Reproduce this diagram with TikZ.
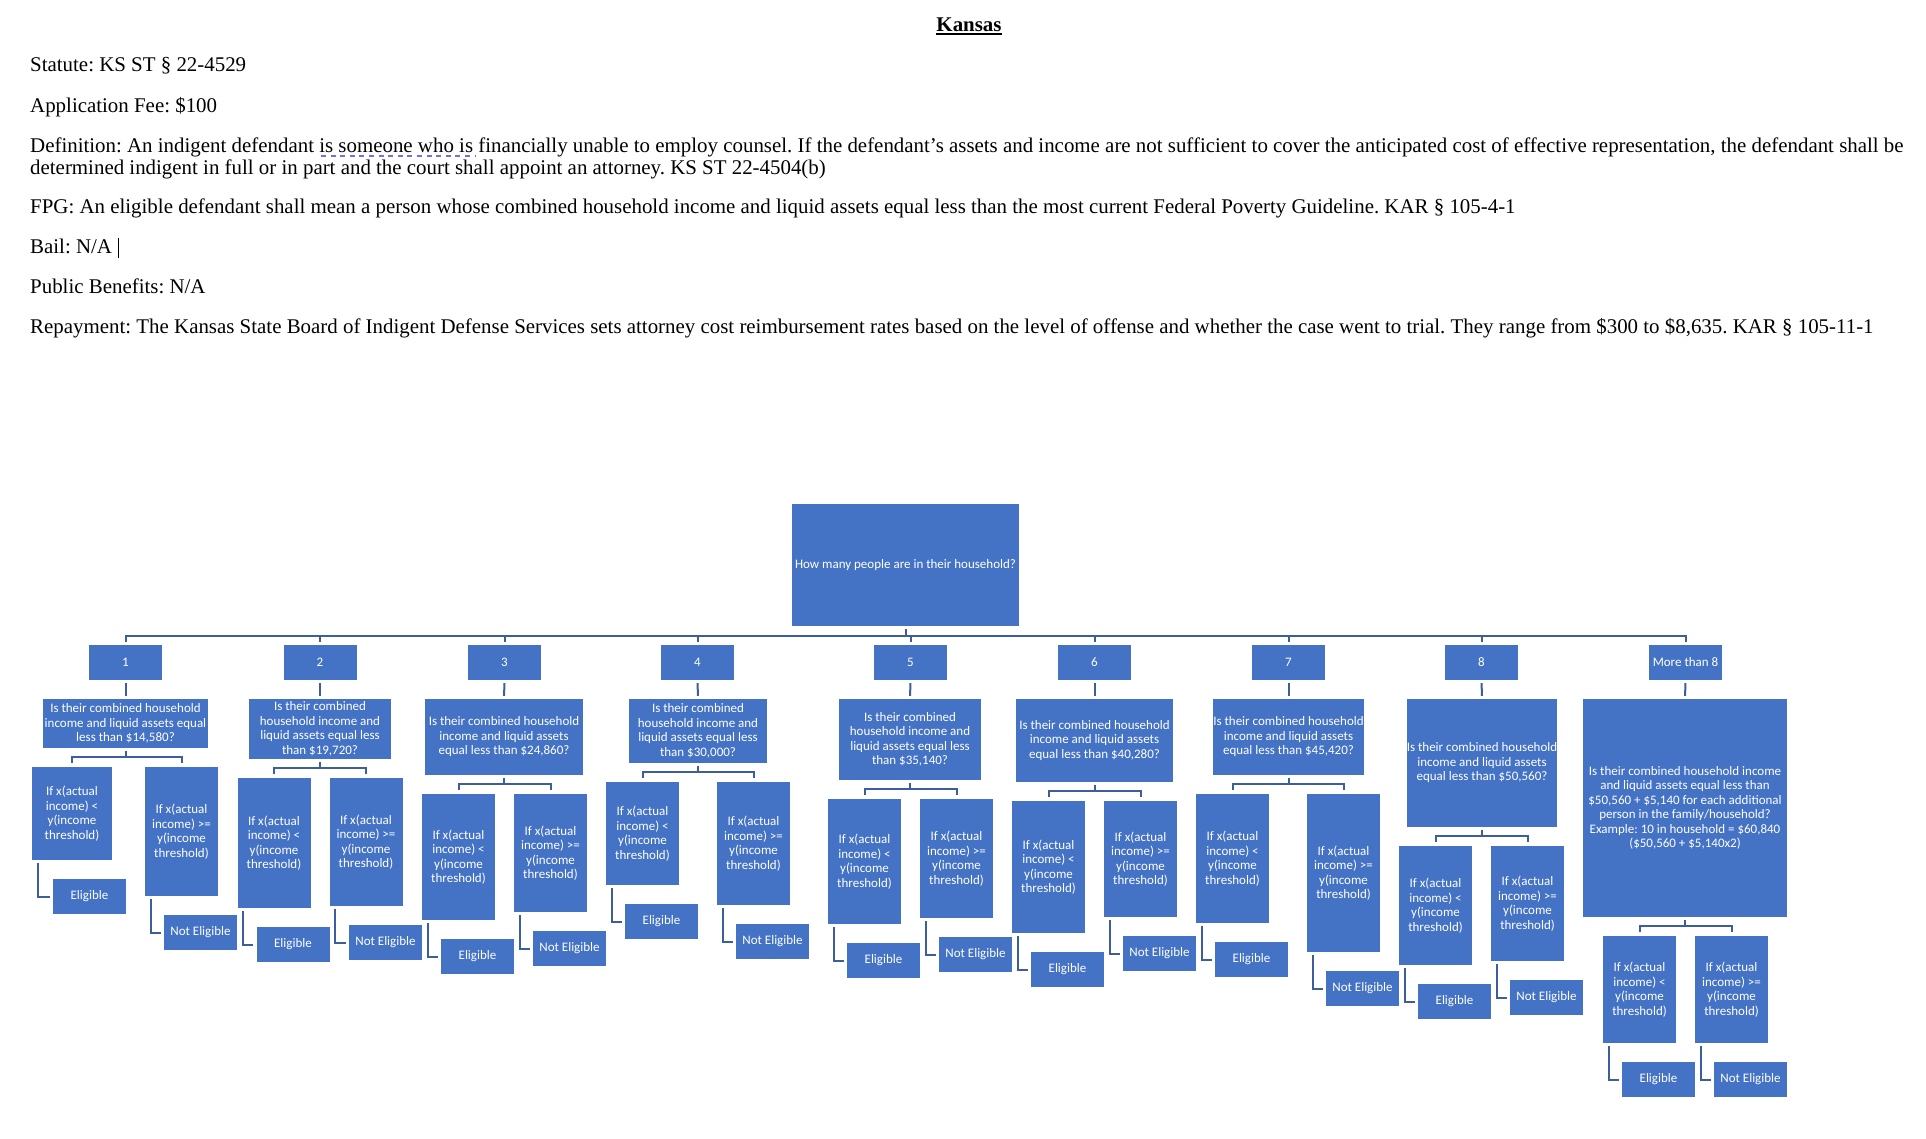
\documentclass[tikz,border=0pt]{standalone}
\usepackage{fontspec}
\setmainfont{Liberation Serif}
\newfontfamily\carlito{Carlito}
\usetikzlibrary{calc}
\definecolor{boxblue}{HTML}{4472C4}
\definecolor{lineblue}{HTML}{3C5E9C}
\definecolor{spellblue}{HTML}{7070E0}
\newcommand{\boxfont}{\carlito\fontsize{13}{14.5}\selectfont}
\newcommand{\pagefont}{\fontsize{20.9}{21}\selectfont}
\frenchspacing
\begin{document}
\begin{tikzpicture}[x=1pt,y=-1pt,
  box/.style={fill=boxblue,text=white,inner sep=0pt,align=center,font=\boxfont},
  numbox/.style={box,minimum width=73,minimum height=35},
  ifbox/.style={box,minimum width=73},
  leaf/.style={box,minimum width=73,minimum height=35},
  link/.style={draw=lineblue,line width=2pt},
  textline/.style={anchor=base west,inner sep=0pt,font=\pagefont}]
\useasboundingbox (0,0) rectangle (1926,1138);

\node[textline,anchor=base,font=\pagefont\bfseries] (title) at (969,31) {Kansas};
\draw[line width=1.4pt] ([yshift=-3pt]title.base west) -- ([yshift=-3pt]title.base east);
\node[textline] (statute) at (30,71) {Statute: KS ST § 22-4529};
\node[textline] (fee) at (30,112) {Application Fee: \$100};
\node[textline] (defn) at (30,152) {Definition: An indigent defendant is someone who is financially unable to employ counsel. If the defendant’s assets and income are not sufficient to cover the anticipated cost of effective representation, the defendant shall be};
\node[textline] (defn2) at (30,174) {determined indigent in full or in part and the court shall appoint an attorney. KS ST 22-4504(b)};
\draw[spellblue,line width=2.5pt,dash pattern=on 5pt off 4.6pt] (321,156) -- (475,156);
\node[textline] (fpg) at (30,213) {FPG: An eligible defendant shall mean a person whose combined household income and liquid assets equal less than the most current Federal Poverty Guideline. KAR § 105-4-1};
\node[textline] (bail) at (30,253) {Bail: N/A};
\draw[line width=1.2pt] ($(bail.base east)+(6,5)$) -- ++(0,-20);
\node[textline] (benefits) at (30,293) {Public Benefits: N/A};
\node[textline] (repay) at (30,333) {Repayment: The Kansas State Board of Indigent Defense Services sets attorney cost reimbursement rates based on the level of offense and whether the case went to trial. They range from \$300 to \$8,635. KAR § 105-11-1};

\node[box,minimum width=227,minimum height=122] (top) at (905.5,565) {How many people are in their household?};

\node[numbox] (n1) at (125.5,662.5) {1};
\node[numbox] (n2) at (320,662.5) {2};
\node[numbox] (n3) at (504.5,662.5) {3};
\node[numbox] (n4) at (697.5,662.5) {4};
\node[numbox] (n5) at (910.5,662.5) {5};
\node[numbox] (n6) at (1094.5,662.5) {6};
\node[numbox] (n7) at (1288.5,662.5) {7};
\node[numbox] (n8) at (1481.5,662.5) {8};
\node[numbox] (n9) at (1685.5,662.5) {More than 8};

\node[box,minimum width=165,minimum height=49] (q1) at (125.5,723.5) {Is their combined household\\income and liquid assets equal\\less than \$14,580?};
\node[box,minimum width=142,minimum height=60] (q2) at (320,729) {Is their combined\\household income and\\liquid assets equal less\\than \$19,720?};
\node[box,minimum width=158,minimum height=76] (q3) at (504,737) {Is their combined household\\income and liquid assets\\equal less than \$24,860?};
\node[box,minimum width=138,minimum height=64] (q4) at (698,731) {Is their combined\\household income and\\liquid assets equal less\\than \$30,000?};
\node[box,minimum width=142,minimum height=81] (q5) at (910,739.5) {Is their combined\\household income and\\liquid assets equal less\\than \$35,140?};
\node[box,minimum width=157,minimum height=83] (q6) at (1094.5,740.5) {Is their combined household\\income and liquid assets\\equal less than \$40,280?};
\node[box,minimum width=151,minimum height=76] (q7) at (1288.5,737) {Is their combined household\\income and liquid assets\\equal less than \$45,420?};
\node[box,minimum width=150,minimum height=128] (q8) at (1482,763) {Is their combined household\\income and liquid assets\\equal less than \$50,560?};
\node[box,minimum width=204,minimum height=218] (q9) at (1685,808) {Is their combined household income\\and liquid assets equal less than\\\$50,560 + \$5,140 for each additional\\person in the family/household?\\Example: 10 in household = \$60,840\\(\$50,560 + \$5,140x2)};

\node[ifbox,minimum width=80,minimum height=93] (l1) at (72,813.5) {If x(actual\\income) <\\y(income\\threshold)};
\node[ifbox,minimum height=129] (r1) at (181.5,831.5) {If x(actual\\income) >=\\y(income\\threshold)};
\node[ifbox,minimum height=130] (l2) at (274,843) {If x(actual\\income) <\\y(income\\threshold)};
\node[ifbox,minimum height=128] (r2) at (366,842) {If x(actual\\income) >=\\y(income\\threshold)};
\node[ifbox,minimum height=126] (l3) at (458.5,857) {If x(actual\\income) <\\y(income\\threshold)};
\node[ifbox,minimum height=118] (r3) at (550.5,853) {If x(actual\\income) >=\\y(income\\threshold)};
\node[ifbox,minimum height=103] (l4) at (642.5,833.5) {If x(actual\\income) <\\y(income\\threshold)};
\node[ifbox,minimum height=123] (r4) at (753.5,843.5) {If x(actual\\income) >=\\y(income\\threshold)};
\node[ifbox,minimum height=125] (l5) at (864.5,861.5) {If x(actual\\income) <\\y(income\\threshold)};
\node[ifbox,minimum height=119] (r5) at (956.5,858.5) {If x(actual\\income) >=\\y(income\\threshold)};
\node[ifbox,minimum height=132] (l6) at (1048.5,867) {If x(actual\\income) <\\y(income\\threshold)};
\node[ifbox,minimum height=116] (r6) at (1140.5,859) {If x(actual\\income) >=\\y(income\\threshold)};
\node[ifbox,minimum height=129] (l7) at (1232.5,858.5) {If x(actual\\income) <\\y(income\\threshold)};
\node[ifbox,minimum height=158] (r7) at (1343.5,873) {If x(actual\\income) >=\\y(income\\threshold)};
\node[ifbox,minimum height=119] (l8) at (1435.5,905.5) {If x(actual\\income) <\\y(income\\threshold)};
\node[ifbox,minimum height=115] (r8) at (1527.5,903.5) {If x(actual\\income) >=\\y(income\\threshold)};
\node[ifbox,minimum height=107] (l9) at (1639.5,989.5) {If x(actual\\income) <\\y(income\\threshold)};
\node[ifbox,minimum height=107] (r9) at (1731.5,989.5) {If x(actual\\income) >=\\y(income\\threshold)};

\node[leaf] (e1) at (89.5,896.5) {Eligible};
\node[leaf] (ne1) at (200.5,932.5) {Not Eligible};
\node[leaf] (e2) at (293,944.5) {Eligible};
\node[leaf] (ne2) at (385.5,942.5) {Not Eligible};
\node[leaf] (e3) at (477.5,956.5) {Eligible};
\node[leaf] (ne3) at (569.5,948.5) {Not Eligible};
\node[leaf] (e4) at (661.5,921.5) {Eligible};
\node[leaf] (ne4) at (772.5,941.5) {Not Eligible};
\node[leaf] (e5) at (883.5,960.5) {Eligible};
\node[leaf] (ne5) at (975.5,954.5) {Not Eligible};
\node[leaf] (e6) at (1067.5,969.5) {Eligible};
\node[leaf] (ne6) at (1159.5,953.5) {Not Eligible};
\node[leaf] (e7) at (1251.5,959.5) {Eligible};
\node[leaf] (ne7) at (1362.5,988.5) {Not Eligible};
\node[leaf] (e8) at (1454.5,1001.5) {Eligible};
\node[leaf] (ne8) at (1546.5,997.5) {Not Eligible};
\node[leaf] (e9) at (1658.5,1079.5) {Eligible};
\node[leaf] (ne9) at (1750.5,1079.5) {Not Eligible};

\foreach \i in {1,...,9}{
  \draw[link] ([yshift=-3pt]top.south) -- ++(0,7) -| ([yshift=3pt]n\i.north);
  \draw[link,shorten <=3pt,shorten >=3pt] (n\i.south) -- (q\i.north);
  \draw[link] ([yshift=-3pt]q\i.south) -- ++(0,6) -| ([yshift=4pt]l\i.north);
  \draw[link] ([yshift=-3pt]q\i.south) -- ++(0,6) -| ([yshift=4pt]r\i.north);
  \draw[link] ([xshift=6pt,yshift=-3pt]l\i.south west) |- ([xshift=-3pt]e\i.west);
  \draw[link] ([xshift=6pt,yshift=-3pt]r\i.south west) |- ([xshift=-3pt]ne\i.west);
}
\end{tikzpicture}
\end{document}
